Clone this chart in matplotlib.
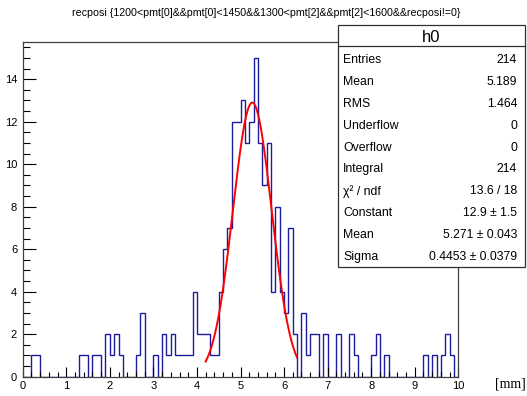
import numpy as np
import matplotlib.pyplot as plt
from matplotlib.patches import Rectangle
from matplotlib.lines import Line2D
from matplotlib.ticker import MultipleLocator

plt.rcParams['font.family'] = ['Liberation Sans', 'DejaVu Sans']

# histogram h0: 100 bins from 0 to 10
edges = np.linspace(0, 10, 101)
counts = [0, 0, 1, 1, 0, 0, 0, 0, 0, 0,
          0, 0, 0, 1, 1, 0, 1, 1, 0, 2,
          1, 2, 1, 0, 0, 0, 1, 3, 0, 0,
          1, 0, 2, 1, 2, 1, 1, 1, 1, 4,
          2, 2, 2, 1, 1, 4, 6, 7, 12, 12,
          13, 11, 12, 15, 11, 9, 11, 4, 8, 4,
          3, 7, 2, 0, 3, 1, 2, 2, 0, 2,
          0, 0, 2, 0, 0, 2, 1, 0, 0, 0,
          1, 2, 0, 1, 0, 0, 0, 0, 0, 0,
          0, 0, 1, 0, 1, 0, 1, 2, 1, 0]

# gaussian fit result
fit_const = 12.9
fit_mean = 5.271
fit_sigma = 0.4453
fit_range = (4.2, 6.3)

title = "recposi {1200<pmt[0]&&pmt[0]<1450&&1300<pmt[2]&&pmt[2]<1600&&recposi!=0}"
stat_names = ["Entries", "Mean", "RMS", "Underflow", "Overflow", "Integral",
              "χ² / ndf", "Constant", "Mean", "Sigma"]
stat_values = ["214", "5.189", "1.464", "0", "0", "214",
               "13.6 / 18", "12.9 ± 1.5", "5.271 ± 0.043", "0.4453 ± 0.0379"]

W, H = 527, 396
fig = plt.figure(figsize=(W / 100, H / 100), dpi=100)
ax = fig.add_axes([22.7 / W, 1 - 376.7 / H, (458.3 - 22.7) / W, (376.7 - 42) / H])

ax.stairs(counts, edges, color='#1c1c9c', lw=1)
xf = np.linspace(fit_range[0], fit_range[1], 200)
yf = fit_const * np.exp(-0.5 * ((xf - fit_mean) / fit_sigma) ** 2)
ax.plot(xf, yf, color='red', lw=1.4)

ax.set_xlim(0, 10)
ax.set_ylim(0, 1.05 * max(counts))
ax.xaxis.set_major_locator(MultipleLocator(1))
ax.xaxis.set_minor_locator(MultipleLocator(0.2))
ax.yaxis.set_major_locator(MultipleLocator(2))
ax.yaxis.set_minor_locator(MultipleLocator(0.5))
ax.tick_params(axis='x', which='major', direction='in', length=7.2, width=0.8, labelsize=8, pad=3)
ax.tick_params(axis='x', which='minor', direction='in', length=3.6, width=0.8)
ax.tick_params(axis='y', which='major', direction='in', length=9.4, width=0.8, labelsize=8, pad=4)
ax.tick_params(axis='y', which='minor', direction='in', length=4.7, width=0.8)
for s in ax.spines.values():
    s.set_color('#404040')
    s.set_linewidth(0.9)

fig.text(266 / W, 1 - 13 / H, title, ha='center', va='center', fontsize=7.7)
fig.text(526 / W, 1 - 384 / H, "[mm]", ha='right', va='center', fontsize=10,
         family=['Liberation Serif', 'DejaVu Serif'])

# stats box
bx0, bx1, by0, by1 = 338, 525, 25, 267
fig.add_artist(Rectangle((bx0 / W, 1 - by1 / H), (bx1 - bx0) / W, (by1 - by0) / H,
                         transform=fig.transFigure, facecolor='white',
                         edgecolor='#303030', lw=0.9))
fig.add_artist(Line2D([bx0 / W, bx1 / W], [1 - 46 / H, 1 - 46 / H],
                      transform=fig.transFigure, color='#303030', lw=0.9))
fig.text((bx0 + bx1) / 2 / W, 1 - 37 / H, "h0", ha='center', va='center', fontsize=12)
for i, (n, v) in enumerate(zip(stat_names, stat_values)):
    yy = 1 - (60 + 21.9 * i) / H
    fig.text(343 / W, yy, n, ha='left', va='center', fontsize=8.8)
    fig.text(517 / W, yy, v, ha='right', va='center', fontsize=8.8)

fig.savefig('out.png', dpi=100)
